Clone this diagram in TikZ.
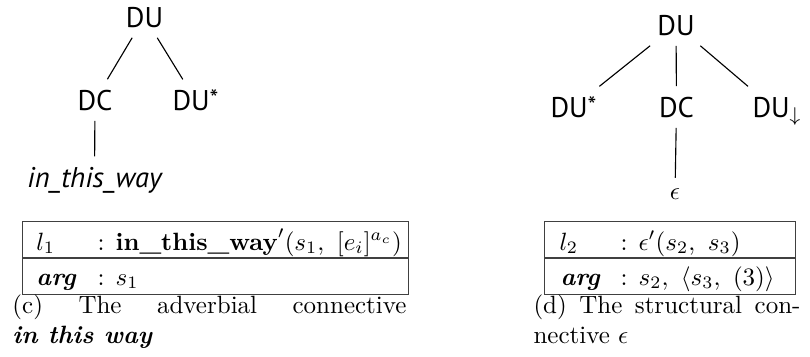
\documentclass[tikz,border=0pt]{standalone}
\usepackage{fontspec}
\newfontfamily\treefont{PT Sans}
\begin{document}
\begin{tikzpicture}[x=0.4pt,y=-0.4pt,
  tn/.style={font=\treefont\fontsize{11.4}{13}\selectfont, inner sep=4pt, anchor=base},
  tx/.style={inner sep=0pt, anchor=base west},
  edge/.style={line width=0.45pt},
  frame/.style={line width=0.5pt, draw=black!75}]
\useasboundingbox (0,0) rectangle (810,356);
\newcommand{\starsup}{\raisebox{0.15ex}{\fontsize{10}{10}\selectfont *}}
% ---- left tree (c)
\node[tn] (lDU) at (144.5,27) {DU};
\node[tn] (lDC) at (95,110) {DC};
\node[tn, anchor=base west] (lDUs) at (162,110) {DU\starsup};
\node[tn] (lway) at (94.5,187) {\itshape in\_this\_way};
\draw[edge] (lDU) -- (lDC);
\draw[edge] (lDU) -- (lDUs);
\draw[edge] (lDC) -- (lway);
% ---- right tree (d)
\node[tn] (rDU) at (676,35) {DU};
\node[tn, anchor=base west] (rDUs) at (540,117) {DU\starsup};
\node[tn] (rDC) at (676.5,117) {DC};
\node[tn, anchor=base west] (rDUd) at (742,117) {DU$_\downarrow$};
\node[tn, font=\normalsize] (reps) at (675,199) {$\epsilon$};
\draw[edge] (rDU) -- (rDUs);
\draw[edge] (rDU) -- (rDC);
\draw[edge] (rDU) -- (rDUd);
\draw[edge] (rDC) -- (reps);
% ---- left box
\node[frame, draw, inner sep=0pt, minimum width=386*0.4pt, minimum height=73*0.4pt, anchor=north west] (lbox) at (22,221) {};
\coordinate (lmidL) at (22,258);
\coordinate (lmidR) at (408,258);
\draw[frame] (lmidL) -- (lmidR);
\node[tx] (l1) at (36,250) {$l_1$};
\node[tx] (l1v) at (97,250) {: $\textbf{in\_this\_way}'(s_1,\ [e_i]^{a_c})$};
\node[tx] (la) at (36,285) {\textbf{\textit{arg}}};
\node[tx] (lav) at (97,285) {: $s_1$};
% ---- right box
\node[frame, draw, inner sep=0pt, minimum width=251*0.4pt, minimum height=73*0.4pt, anchor=north west] (rbox) at (544,221) {};
\coordinate (rmidL) at (544,258);
\coordinate (rmidR) at (795,258);
\draw[frame] (rmidL) -- (rmidR);
\node[tx] (l2) at (559,250) {$l_2$};
\node[tx] (l2v) at (620,250) {: $\epsilon'(s_2,\ s_3)$};
\node[tx] (ra) at (560,285) {\textbf{\textit{arg}}};
\node[tx] (rav) at (620,285) {: $s_2,\ \langle s_3,\ (3)\rangle$};
% ---- captions
\node[tx] (capc1) at (12,313) {\makebox[157.6pt][s]{(c) The adverbial connective}};
\node[tx] (capc2) at (12,343) {\textbf{\textit{in this way}}};
\node[tx] (capd1) at (533,313) {\makebox[106.8pt][s]{(d) The structural con-}};
\node[tx] (capd2) at (533,343) {nective $\epsilon$};
\end{tikzpicture}
\end{document}
